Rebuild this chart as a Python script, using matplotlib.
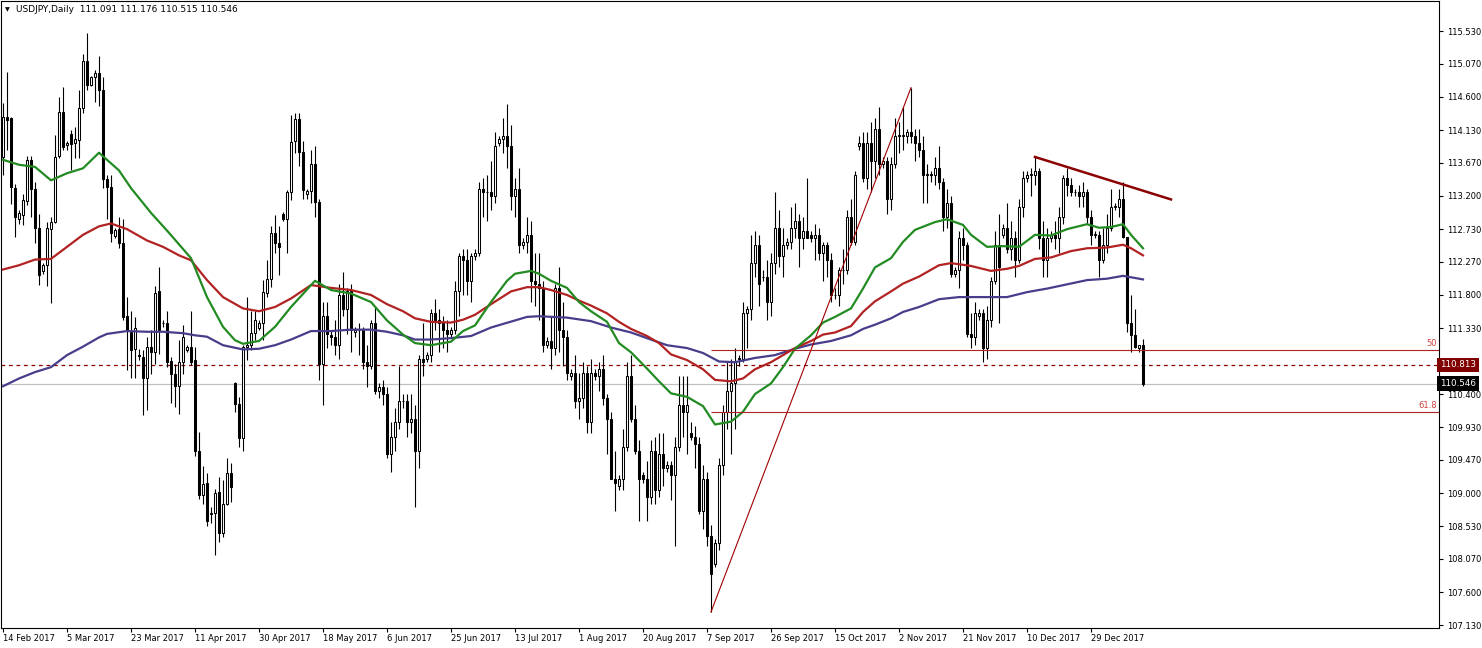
import matplotlib
matplotlib.use("Agg")
import matplotlib.pyplot as plt
import matplotlib.transforms as mtransforms

# USDJPY daily bars (broker shows Sunday bars), 14 Feb 2017 .. 15 Jan 2018
opens = [
    113.75, 114.32, 114.30, 113.31, 112.88, 112.93, 113.13, 113.71, 113.30, 112.74,
    112.14, 112.22, 112.73, 112.83, 113.76, 114.39, 113.92, 114.08, 113.95, 113.99,
    114.44, 115.10, 114.77, 114.88, 114.94, 114.70, 113.44, 113.33, 112.63, 112.73,
    112.53, 111.50, 111.28, 111.03, 110.95, 110.93, 110.63, 111.07, 111.00, 111.85,
    111.40, 111.40, 110.86, 110.69, 110.52, 110.85, 111.02, 111.07, 110.88, 109.60,
    108.97, 109.14, 108.70, 108.72, 109.02, 108.44, 108.85, 109.29, 110.55, 110.26,
    109.78, 111.07, 111.09, 111.26, 111.33, 111.40, 111.83, 112.02, 112.67, 112.53,
    112.95, 112.87, 113.26, 113.97, 114.28, 113.82, 113.22, 113.27, 113.65, 113.11,
    110.82, 111.50, 111.23, 111.20, 111.10, 111.80, 111.60, 111.85, 111.28, 111.30,
    111.30, 110.85, 110.80, 111.40, 110.45, 110.50, 110.40, 109.55, 109.80, 110.00,
    110.30, 110.30, 110.00, 110.05, 109.60, 110.90, 110.90, 110.95, 111.55, 111.45,
    111.40, 111.30, 111.25, 111.30, 111.85, 112.35, 112.30, 112.00, 112.35, 112.40,
    113.30, 113.25, 113.25, 113.20, 113.95, 114.00, 114.05, 113.90, 113.20, 113.30,
    112.50, 112.55, 112.65, 112.00, 111.95, 111.90, 111.10, 111.15, 111.05, 111.90,
    111.30, 111.20, 110.65, 110.70, 110.30, 110.35, 110.70, 110.00, 110.70, 110.65,
    110.75, 110.35, 110.05, 109.20, 109.10, 109.20, 109.65, 110.65, 110.05, 109.60,
    109.25, 109.20, 108.95, 109.60, 109.05, 109.55, 109.35, 109.40, 109.25, 109.65,
    110.25, 110.15, 109.85, 109.80, 109.70, 108.75, 109.20, 108.40, 108.00, 108.30,
    109.40, 110.15, 110.45, 110.55, 110.90, 110.90, 111.55, 111.60, 112.25, 112.50,
    112.05, 112.05, 111.70, 112.25, 112.75, 112.35, 112.50, 112.55, 112.75, 112.85,
    112.60, 112.70, 112.65, 112.60, 112.65, 112.40, 112.50, 112.30, 111.80, 111.80,
    112.15, 112.15, 112.90, 112.55, 113.90, 113.95, 113.45, 113.95, 113.70, 114.15,
    113.65, 113.70, 113.15, 113.65, 114.05, 114.05, 114.05, 114.10, 114.05, 113.95,
    113.85, 113.50, 113.50, 113.50, 113.60, 113.40, 112.90, 113.10, 112.10, 112.15,
    112.60, 112.50, 111.25, 111.20, 111.50, 111.55, 111.05, 111.45, 112.00, 112.50,
    112.65, 112.75, 112.45, 112.60, 112.30, 113.05, 113.45, 113.50, 113.50, 113.55,
    112.60, 112.30, 112.60, 112.65, 112.60, 112.90, 113.45, 113.35, 113.25, 113.25,
    113.20, 113.25, 112.90, 112.65, 112.65, 112.30, 112.50, 112.75, 113.05, 113.05,
    113.15, 112.62, 111.40, 111.23, 111.05, 111.091,
]
highs = [
    114.51, 114.95, 114.32, 113.37, 113.00, 113.23, 113.76, 113.76, 113.40, 112.95,
    112.25, 112.83, 112.90, 114.06, 114.60, 114.74, 113.98, 114.13, 114.18, 114.70,
    115.21, 115.50, 114.90, 114.98, 115.18, 114.88, 113.49, 113.49, 112.75, 112.90,
    112.87, 111.77, 111.58, 111.49, 111.04, 111.02, 111.21, 111.30, 111.92, 112.19,
    111.45, 111.58, 110.93, 110.83, 111.16, 111.37, 111.10, 111.58, 111.07, 109.86,
    109.39, 109.28, 108.80, 109.06, 109.23, 109.18, 109.49, 109.42, 110.57, 110.36,
    111.09, 111.77, 111.58, 111.58, 111.45, 112.01, 112.30, 112.77, 112.93, 112.77,
    112.97, 113.29, 114.34, 114.37, 114.37, 113.98, 113.30, 113.85, 113.90, 113.15,
    111.70, 111.70, 111.30, 111.45, 111.95, 112.12, 111.90, 111.95, 111.35, 111.40,
    111.35, 111.10, 111.45, 111.65, 110.55, 110.60, 110.50, 110.00, 110.20, 110.80,
    110.40, 110.40, 110.40, 110.25, 110.95, 111.40, 111.00, 111.60, 111.75, 111.60,
    111.50, 111.45, 111.35, 112.00, 112.40, 112.45, 112.45, 112.40, 112.45, 113.40,
    113.45, 113.50, 113.70, 114.10, 114.05, 114.30, 114.50, 114.20, 113.45, 113.60,
    112.60, 112.90, 112.85, 112.40, 112.40, 112.00, 111.20, 111.50, 111.95, 112.20,
    111.70, 111.30, 110.75, 110.95, 110.70, 110.85, 110.80, 110.90, 110.75, 110.85,
    110.95, 110.40, 110.15, 109.60, 109.25, 109.90, 110.85, 110.95, 110.25, 109.75,
    109.30, 109.45, 109.75, 109.80, 109.85, 109.85, 109.45, 109.45, 109.80, 110.65,
    110.65, 110.65, 110.00, 109.95, 109.80, 109.40, 109.30, 108.55, 108.35, 109.50,
    110.25, 110.85, 110.90, 111.05, 110.95, 111.70, 111.65, 112.65, 112.70, 112.65,
    112.15, 112.30, 112.40, 113.25, 113.00, 112.75, 112.60, 113.05, 113.10, 112.95,
    112.90, 113.45, 112.70, 112.80, 112.75, 112.55, 112.55, 112.40, 111.90, 112.20,
    112.45, 113.00, 113.15, 113.55, 114.05, 114.10, 114.10, 114.25, 114.30, 114.45,
    113.75, 113.75, 113.75, 114.30, 114.25, 114.45, 114.15, 114.73, 114.15, 114.15,
    114.05, 113.65, 113.55, 113.75, 113.90, 113.45, 113.30, 113.20, 112.20, 112.70,
    112.75, 112.55, 111.55, 111.70, 111.60, 111.60, 111.65, 112.05, 112.70, 112.95,
    112.80, 113.10, 112.85, 112.70, 113.15, 113.55, 113.55, 113.60, 113.75, 113.60,
    112.85, 112.75, 112.70, 112.85, 113.05, 113.50, 113.60, 113.45, 113.30, 113.35,
    113.40, 113.30, 113.00, 112.70, 112.70, 112.75, 112.95, 113.30, 113.10, 113.30,
    113.40, 112.62, 111.80, 111.60, 111.10, 111.176,
]
lows = [
    113.50, 113.85, 113.09, 112.62, 112.80, 112.79, 113.07, 112.90, 112.53, 111.94,
    112.10, 111.92, 111.68, 112.81, 113.73, 113.85, 113.85, 113.56, 113.73, 113.73,
    114.37, 114.70, 114.75, 114.53, 114.47, 113.31, 112.88, 112.55, 112.60, 112.46,
    111.44, 110.74, 110.62, 110.62, 110.88, 110.10, 110.17, 110.69, 110.83, 110.97,
    111.35, 110.78, 110.27, 110.22, 110.12, 110.69, 111.00, 110.81, 109.53, 108.92,
    108.85, 108.54, 108.58, 108.12, 108.31, 108.38, 108.83, 108.87, 110.15, 109.65,
    109.59, 110.88, 111.02, 111.17, 111.30, 111.17, 111.77, 111.91, 112.39, 112.08,
    112.85, 112.39, 113.14, 113.80, 113.62, 113.15, 113.15, 113.10, 112.90, 110.60,
    110.25, 111.05, 111.10, 110.95, 110.90, 111.50, 111.25, 111.00, 111.20, 110.95,
    110.75, 110.50, 110.75, 110.40, 110.35, 110.25, 109.50, 109.30, 109.60, 109.90,
    110.20, 109.80, 109.85, 108.80, 109.35, 110.65, 110.85, 110.85, 111.30, 111.00,
    111.05, 111.00, 111.20, 111.25, 111.50, 111.80, 111.80, 111.70, 112.30, 112.35,
    112.90, 112.85, 113.00, 113.10, 113.90, 113.80, 113.60, 113.00, 112.90, 112.40,
    112.45, 112.40, 111.70, 111.65, 111.45, 111.00, 111.05, 110.75, 110.95, 111.00,
    110.80, 110.60, 110.60, 110.20, 110.05, 110.20, 109.85, 109.85, 110.60, 110.45,
    110.25, 109.55, 109.20, 108.75, 109.05, 109.05, 109.60, 110.00, 109.55, 108.60,
    109.15, 108.60, 108.85, 108.85, 108.95, 109.10, 109.30, 108.90, 108.25, 109.60,
    109.80, 109.55, 109.75, 109.35, 108.70, 108.50, 108.25, 107.32, 107.95, 108.20,
    109.25, 109.90, 109.55, 109.90, 110.80, 110.85, 111.05, 111.45, 112.05, 111.65,
    112.00, 111.45, 111.50, 112.10, 112.20, 112.05, 112.45, 112.45, 112.60, 112.20,
    112.45, 112.60, 112.55, 112.30, 112.30, 112.00, 112.05, 111.70, 111.75, 111.65,
    111.95, 112.10, 112.50, 112.50, 113.85, 113.40, 113.30, 113.25, 113.45, 113.50,
    113.60, 112.95, 113.00, 113.60, 113.80, 113.85, 113.95, 113.95, 113.70, 113.75,
    113.10, 113.10, 113.40, 113.35, 113.30, 112.70, 112.75, 112.05, 112.05, 111.90,
    112.30, 111.20, 111.05, 111.10, 111.45, 110.85, 110.90, 111.35, 111.95, 111.40,
    112.60, 112.40, 112.30, 112.05, 112.25, 112.90, 113.40, 113.20, 113.35, 112.45,
    112.05, 112.05, 112.55, 112.45, 112.40, 112.80, 113.20, 113.20, 113.20, 113.05,
    113.05, 112.80, 112.50, 112.60, 112.05, 112.25, 112.40, 112.70, 113.00, 112.90,
    112.60, 111.28, 111.00, 111.05, 111.00, 110.515,
]
closes = [
    114.31, 114.27, 113.32, 112.90, 112.96, 113.14, 113.71, 113.30, 112.74, 112.08,
    112.23, 112.74, 112.83, 113.75, 114.39, 113.89, 113.95, 113.94, 114.00, 114.44,
    115.10, 114.77, 114.88, 114.93, 114.69, 113.44, 113.32, 112.67, 112.72, 112.53,
    111.49, 111.30, 111.02, 111.33, 110.94, 110.63, 111.07, 111.00, 111.83, 111.30,
    111.40, 110.85, 110.69, 110.52, 110.85, 111.21, 111.07, 110.85, 109.60, 108.97,
    109.13, 108.60, 108.72, 109.00, 108.44, 108.85, 109.28, 109.09, 110.26, 109.78,
    111.07, 111.09, 111.26, 111.45, 111.40, 111.84, 112.02, 112.67, 112.53, 112.48,
    112.87, 113.26, 113.96, 114.28, 113.82, 113.29, 113.27, 113.65, 113.11, 110.82,
    111.50, 111.25, 111.20, 111.10, 111.80, 111.60, 111.85, 111.30, 111.30, 111.30,
    110.85, 110.80, 111.40, 110.45, 110.50, 110.40, 109.55, 109.80, 110.00, 110.30,
    110.30, 110.00, 110.05, 109.60, 110.90, 110.85, 110.95, 111.55, 111.45, 111.40,
    111.30, 111.25, 111.30, 111.85, 112.35, 112.30, 112.00, 112.35, 112.40, 113.30,
    113.25, 113.25, 113.20, 113.90, 114.00, 114.05, 113.90, 113.20, 113.30, 112.50,
    112.55, 112.65, 112.00, 111.95, 111.90, 111.10, 111.15, 111.05, 111.90, 111.30,
    111.20, 110.70, 110.70, 110.30, 110.35, 110.70, 110.00, 110.70, 110.65, 110.75,
    110.35, 110.05, 109.20, 109.15, 109.20, 109.65, 110.65, 110.05, 109.60, 109.20,
    109.20, 108.95, 109.60, 109.05, 109.55, 109.35, 109.40, 109.25, 109.65, 110.25,
    110.15, 110.25, 109.80, 109.70, 108.75, 109.20, 108.40, 107.85, 108.30, 109.40,
    110.15, 110.45, 110.55, 110.85, 110.90, 111.55, 111.60, 112.25, 112.50, 111.95,
    112.05, 111.70, 112.25, 112.75, 112.35, 112.50, 112.55, 112.75, 112.85, 112.60,
    112.70, 112.60, 112.60, 112.65, 112.40, 112.50, 112.30, 111.80, 111.80, 112.15,
    112.15, 112.90, 112.55, 113.50, 113.95, 113.45, 113.95, 113.70, 114.15, 113.65,
    113.70, 113.15, 113.65, 114.05, 114.05, 114.05, 114.10, 114.05, 113.95, 113.85,
    113.50, 113.50, 113.50, 113.60, 113.40, 112.90, 113.10, 112.10, 112.15, 112.60,
    112.50, 111.25, 111.20, 111.55, 111.55, 111.05, 111.45, 112.00, 112.50, 112.20,
    112.75, 112.45, 112.60, 112.30, 113.05, 113.45, 113.50, 113.50, 113.55, 112.60,
    112.30, 112.60, 112.65, 112.60, 112.90, 113.45, 113.35, 113.25, 113.25, 113.20,
    113.25, 112.90, 112.65, 112.65, 112.30, 112.50, 112.75, 113.05, 113.05, 113.15,
    112.62, 111.40, 111.23, 111.07, 111.09, 110.546,
]

date_labels = ["14 Feb 2017", "5 Mar 2017", "23 Mar 2017", "11 Apr 2017", "30 Apr 2017",
               "18 May 2017", "6 Jun 2017", "25 Jun 2017", "13 Jul 2017", "1 Aug 2017",
               "20 Aug 2017", "7 Sep 2017", "26 Sep 2017", "15 Oct 2017", "2 Nov 2017",
               "21 Nov 2017", "10 Dec 2017", "29 Dec 2017"]
price_labels = ["115.530", "115.070", "114.600", "114.130", "113.670", "113.200",
                "112.730", "112.270", "111.800", "111.330", "110.870", "110.400",
                "109.930", "109.470", "109.000", "108.530", "108.070", "107.600",
                "107.130"]

# moving averages at sample bars
ma_fast_bars = [0, 4, 8, 12, 16, 20, 24, 29, 32, 37, 41, 45, 47, 51, 55, 58, 60, 64, 68,
                72, 78, 82, 87, 92, 96, 100, 103, 107, 112, 115, 118, 122, 126, 128, 132,
                134, 137, 141, 144, 147, 151, 154, 157, 161, 164, 167, 171, 175, 178, 182,
                185, 188, 192, 195, 198, 202, 205, 208, 212, 215, 218, 222, 225, 228, 233,
                236, 240, 242, 246, 250, 254, 258, 262, 266, 271, 274, 277, 280, 282, 285]
ma_fast = [113.71, 113.64, 113.61, 113.42, 113.52, 113.59, 113.81, 113.56, 113.31, 112.96,
           112.71, 112.45, 112.32, 111.77, 111.35, 111.16, 111.11, 111.15, 111.35, 111.63,
           112.00, 111.87, 111.82, 111.70, 111.44, 111.24, 111.12, 111.09, 111.14, 111.29,
           111.37, 111.70, 112.00, 112.10, 112.14, 112.10, 112.00, 111.90, 111.70, 111.57,
           111.42, 111.12, 110.99, 110.76, 110.58, 110.41, 110.36, 110.23, 109.97, 110.01,
           110.15, 110.40, 110.55, 110.78, 111.04, 111.23, 111.41, 111.49, 111.61, 111.89,
           112.19, 112.32, 112.55, 112.72, 112.83, 112.87, 112.79, 112.65, 112.48, 112.49,
           112.48, 112.65, 112.64, 112.73, 112.80, 112.75, 112.76, 112.80, 112.65, 112.46]

ma_mid_bars = [0, 4, 8, 12, 16, 20, 24, 27, 31, 36, 40, 44, 47, 51, 55, 60, 64, 68, 72, 77,
               82, 87, 92, 96, 100, 103, 107, 112, 115, 118, 122, 127, 131, 134, 137, 141,
               144, 147, 151, 154, 157, 161, 164, 167, 171, 175, 178, 182, 185, 188, 192,
               195, 198, 202, 205, 208, 212, 215, 218, 222, 225, 229, 234, 237, 242, 247,
               251, 254, 258, 262, 267, 271, 276, 280, 282, 285]
ma_mid = [112.16, 112.22, 112.30, 112.31, 112.48, 112.65, 112.77, 112.81, 112.73, 112.57,
          112.48, 112.36, 112.29, 112.01, 111.77, 111.61, 111.57, 111.63, 111.75, 111.94,
          111.90, 111.87, 111.80, 111.67, 111.57, 111.47, 111.42, 111.41, 111.45, 111.52,
          111.67, 111.85, 111.91, 111.91, 111.87, 111.80, 111.72, 111.65, 111.54, 111.42,
          111.32, 111.22, 111.12, 110.96, 110.88, 110.75, 110.60, 110.58, 110.62, 110.75,
          110.85, 110.95, 111.05, 111.15, 111.24, 111.27, 111.36, 111.56, 111.71, 111.85,
          111.96, 112.06, 112.22, 112.25, 112.21, 112.14, 112.17, 112.21, 112.31, 112.33,
          112.42, 112.46, 112.47, 112.51, 112.46, 112.36]

ma_slow_bars = [0, 4, 8, 12, 16, 20, 24, 26, 31, 36, 40, 45, 48, 51, 55, 60, 64, 68, 72, 77,
                82, 87, 92, 96, 100, 103, 107, 112, 117, 122, 131, 134, 141, 147, 152, 157,
                161, 166, 171, 175, 179, 183, 188, 193, 198, 202, 207, 212, 215, 218, 222,
                225, 229, 234, 239, 246, 251, 256, 261, 266, 271, 276, 280, 285]
ma_slow = [110.51, 110.62, 110.71, 110.78, 110.95, 111.07, 111.20, 111.25, 111.29, 111.28,
           111.28, 111.26, 111.23, 111.21, 111.09, 111.03, 111.04, 111.09, 111.17, 111.29,
           111.29, 111.31, 111.31, 111.28, 111.23, 111.17, 111.17, 111.19, 111.22, 111.34,
           111.49, 111.50, 111.48, 111.43, 111.34, 111.27, 111.19, 111.09, 111.05, 110.98,
           110.86, 110.85, 110.91, 110.95, 111.04, 111.10, 111.15, 111.23, 111.32, 111.38,
           111.47, 111.56, 111.63, 111.74, 111.77, 111.77, 111.77, 111.84, 111.89, 111.95,
           112.01, 112.03, 112.07, 112.02]

# fibonacci swing and drawn trend line
fib_bars = [177, 227]
fib_prices = [107.32, 114.73]
fib_levels = [50.0, 61.8]
trend_bars = [258, 292]
trend_prices = [113.75, 113.15]
alert_price = 110.813
last_price = 110.546

W, H = 1482, 648
fig = plt.figure(figsize=(W / 100, H / 100), dpi=100)
fig.patch.set_facecolor("white")
ax = fig.add_axes([1 / W, 20 / H, 1438 / W, 627 / H])
ax.set_xlim(-0.5, 359)
ax.set_ylim(107.094, 115.954)

n = len(closes)
bars = list(range(n))

# candles
ax.vlines(bars, lows, highs, color="black", lw=0.8, zorder=2)
bottoms = [min(o, c) for o, c in zip(opens, closes)]
heights = [max(abs(c - o), 0.006) for o, c in zip(opens, closes)]
faces = ["white" if c >= o else "black" for o, c in zip(opens, closes)]
ax.bar(bars, heights, bottom=bottoms, width=0.55, color=faces, edgecolor="black",
       linewidth=0.75, zorder=3)

# moving averages
ax.plot(ma_slow_bars, ma_slow, color="#483d8b", lw=1.6, zorder=4)
ax.plot(ma_mid_bars, ma_mid, color="#b22222", lw=1.6, zorder=4)
ax.plot(ma_fast_bars, ma_fast, color="#228b22", lw=1.6, zorder=4)

# horizontal price lines
ax.axhline(last_price, color="#c0c0c0", lw=0.9, zorder=1)
ax.axhline(alert_price, color="#8b0000", lw=0.9, ls=(0, (3, 3)), zorder=1)

# fibonacci retracement
lo, hi = fib_prices
ax.plot(fib_bars, fib_prices, color="#a00000", lw=0.8, zorder=5)
for lvl in fib_levels:
    p = hi - (hi - lo) * lvl / 100
    ax.hlines(p, fib_bars[0], 359, color="#b22222", lw=0.8, zorder=5)
    ax.text(358.5, p + 0.02, ("%g" % lvl), ha="right", va="bottom", fontsize=6,
            color="#d04040", zorder=6)

# trend line
ax.plot(trend_bars, trend_prices, color="#8b0000", lw=1.8, zorder=5)

# axes styling
for s in ax.spines.values():
    s.set_color("black")
    s.set_linewidth(0.8)
ax.yaxis.tick_right()
ax.set_yticks([float(v) for v in price_labels])
# the 110.870 label sits under the alert marker, so leave it blank
ax.set_yticklabels(["" if v == "110.870" else v for v in price_labels])
ax.tick_params(axis="y", direction="out", length=3, width=0.8, labelsize=6, pad=3)
ax.set_xticks([16 * k for k in range(len(date_labels))])
ax.set_xticklabels(date_labels, ha="left")
ax.tick_params(axis="x", direction="out", length=3, width=0.8, labelsize=6, pad=1)

# price markers on the axis
tr = mtransforms.blended_transform_factory(ax.transAxes, ax.transData)
ax.text(1.0008, alert_price, "110.813", transform=tr, ha="left", va="center",
        fontsize=6.3, color="white", clip_on=False, zorder=10,
        bbox=dict(boxstyle="square,pad=0.32", fc="#800000", ec="none"))
ax.text(1.0008, last_price, "110.546", transform=tr, ha="left", va="center",
        fontsize=6.3, color="white", clip_on=False, zorder=10,
        bbox=dict(boxstyle="square,pad=0.32", fc="black", ec="none"))

# header
fig.text(5 / W, 1 - 9.5 / H, "\u25bc", fontsize=4.5, va="center", ha="left")
fig.text(16 / W, 1 - 9.5 / H, "USDJPY,Daily  111.091 111.176 110.515 110.546",
         fontsize=6.5, va="center", ha="left")

fig.savefig("out.png", dpi=100, facecolor="white")
